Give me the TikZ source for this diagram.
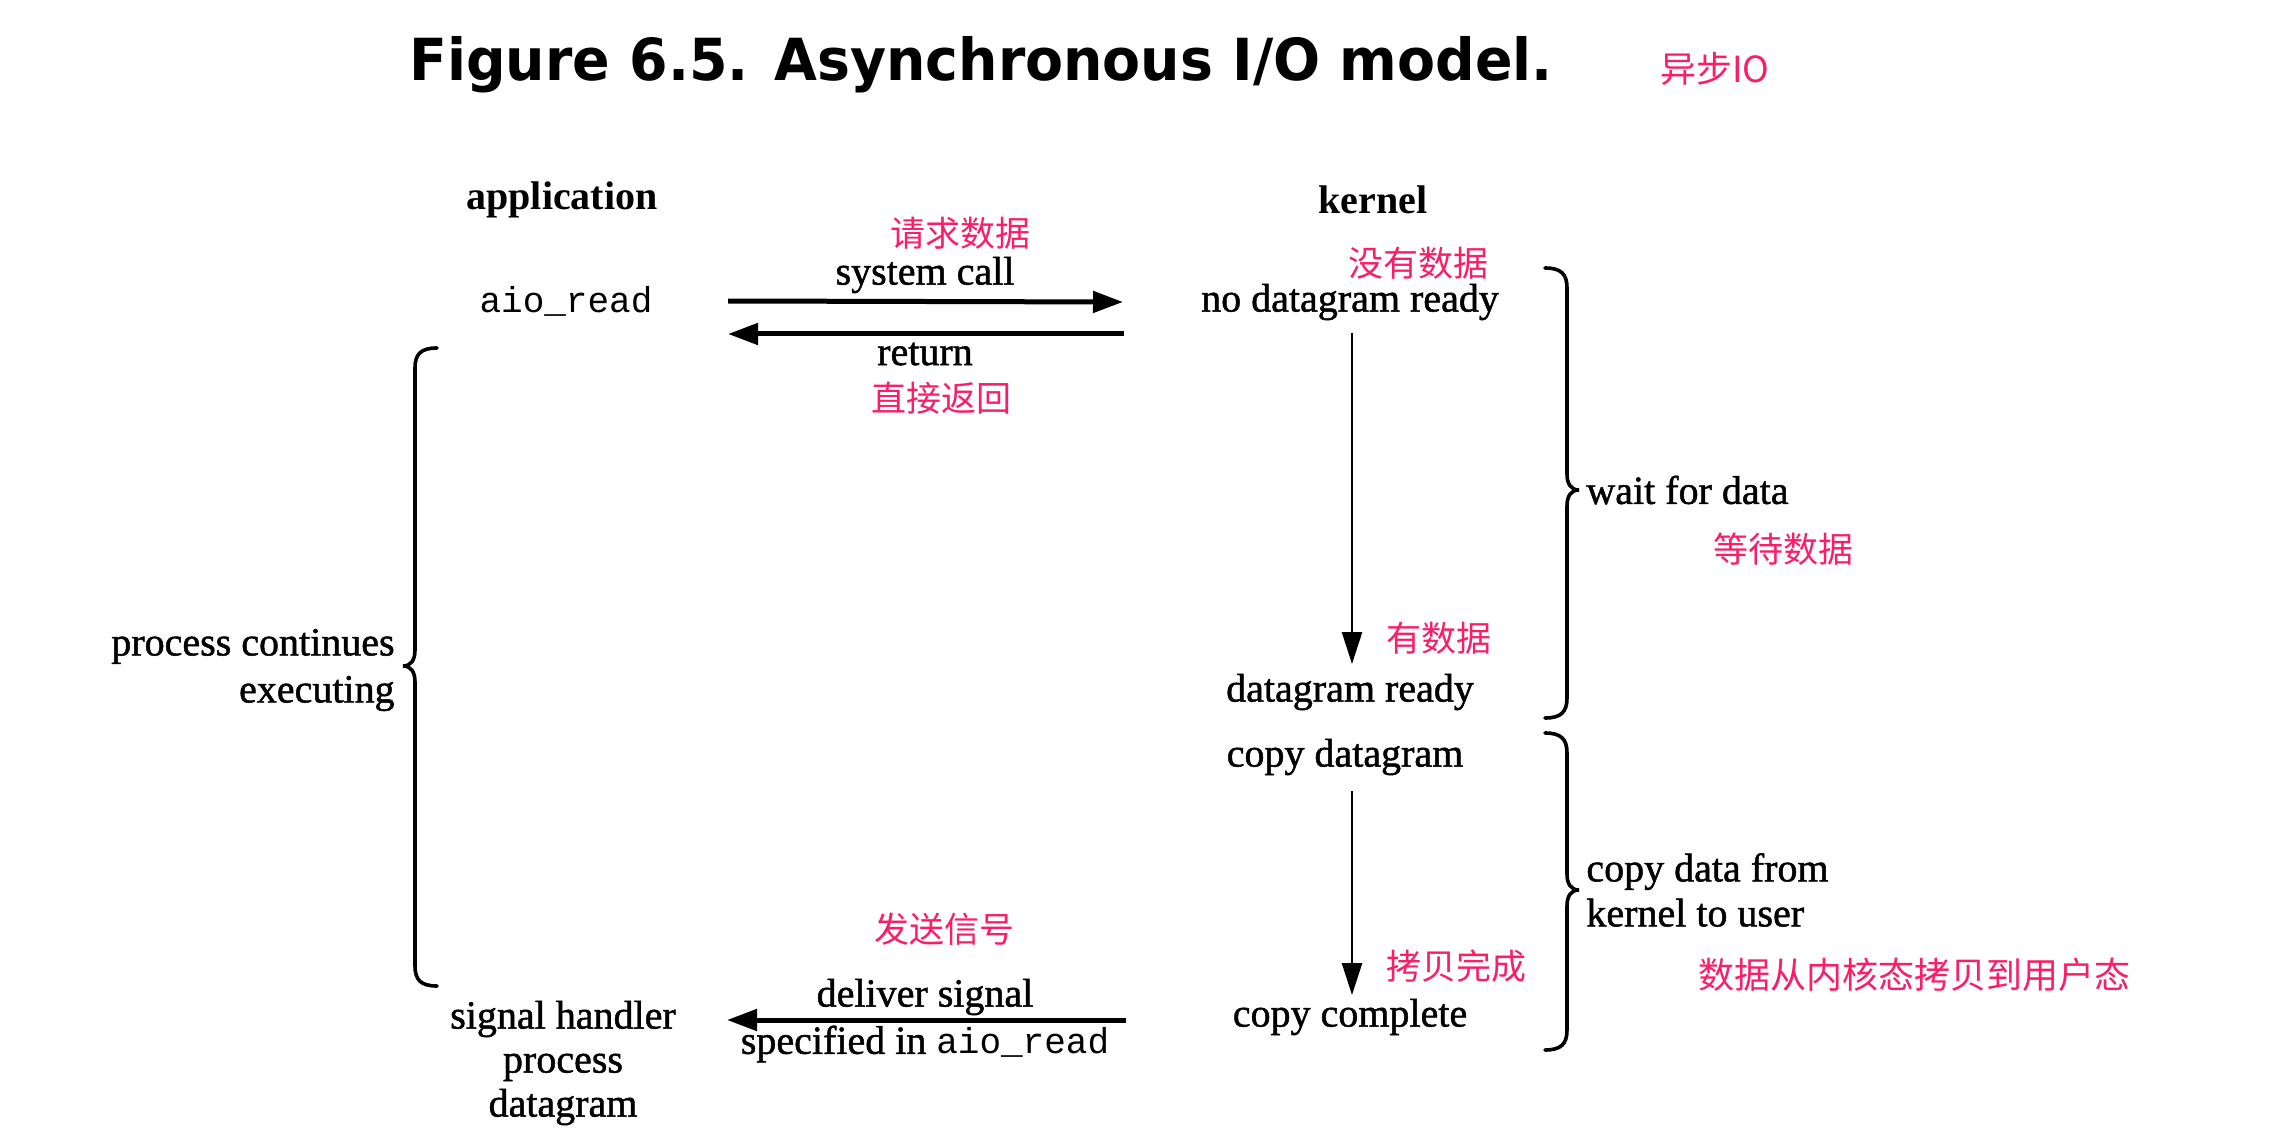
\documentclass[tikz,border=0pt]{standalone}
\usepackage{fontspec}
\setmainfont{Liberation Serif}
\setmonofont{Liberation Mono}
\newfontfamily\heavy{Liberation Serif}[FakeBold=1.2]
\newfontfamily\cjk{Noto Sans CJK SC}
\newfontfamily\titlefont{DejaVu Sans}
\usetikzlibrary{arrows.meta}
\definecolor{anno}{RGB}{250,30,105}
% right brace: x of vertical stroke, top y, bottom y, tip y
\newcommand\rbracepath[4]{({#1-22},#2) .. controls ({#1-6},#2) and (#1,{#2+6}) .. (#1,{#2+20}) -- (#1,{#4-16}) .. controls (#1,{#4-6}) and ({#1+4},#4) .. ({#1+12},#4) .. controls ({#1+4},#4) and (#1,{#4+6}) .. (#1,{#4+16}) -- (#1,{#3-20}) .. controls (#1,{#3-6}) and ({#1-6},#3) .. ({#1-22},#3)}
\newcommand\lbracepath[4]{({#1+22},#2) .. controls ({#1+6},#2) and (#1,{#2+6}) .. (#1,{#2+20}) -- (#1,{#4-16}) .. controls (#1,{#4-6}) and ({#1-4},#4) .. ({#1-12},#4) .. controls ({#1-4},#4) and (#1,{#4+6}) .. (#1,{#4+16}) -- (#1,{#3-20}) .. controls (#1,{#3-6}) and ({#1+6},#3) .. ({#1+22},#3)}
\begin{document}
\begin{tikzpicture}[x=0.5pt,y=-0.5pt,
  lbl/.style={font=\fontsize{20pt}{22.5pt}\selectfont\heavy, inner sep=0pt, align=center},
  head/.style={lbl, font=\fontsize{20pt}{22.5pt}\selectfont\bfseries},
  code/.style={font=\fontsize{18pt}{22pt}\selectfont\ttfamily, inner sep=0pt},
  note/.style={font=\fontsize{17.5pt}{21pt}\selectfont\cjk, text=anno, inner sep=0pt},
  harr/.style={line width=2.5pt, -{Triangle[length=15pt,width=10.5pt]}},
  varr/.style={line width=1.3pt, -{Triangle[length=16pt,width=10pt]}},
  brc/.style={line width=1.8pt, line cap=round}]
\useasboundingbox (0,0) rectangle (2288,1134);
\fill[white] (0,0) rectangle (2288,1134);
% title
\node[inner sep=0pt, anchor=base west] (title) at (409,81) {\scalebox{0.955}[1]{\fontsize{29pt}{34pt}\selectfont\titlefont\bfseries Figure 6.5. Asynchronous I/O model.}};
\node[note, font=\fontsize{18pt}{21pt}\selectfont\cjk] (async) at (1715,69) {异步IO};
% headers
\node[head] (app) at (562,200) {application};
\node[head] (kern) at (1373,200) {kernel};
% application side
\node[code] (aio) at (566,301) {aio\_read};
\node[lbl, font=\fontsize{20pt}{22pt}\selectfont\heavy] (sig) at (563,1063) {signal handler\\process\\datagram};
\node[lbl, align=right, anchor=east, font=\fontsize{20pt}{23.5pt}\selectfont\heavy] (proc) at (395,670) {process continues\\executing};
% kernel side
\node[lbl] (nodr) at (1350,302) {no datagram ready};
\node[lbl] (dr) at (1350,692) {datagram ready};
\node[lbl] (cpd) at (1345,757) {copy datagram};
\node[lbl] (cpc) at (1350,1017) {copy complete};
% arrow labels
\node[lbl] (syscall) at (925,275) {system call};
\node[lbl] (ret) at (925,354) {return};
\node[lbl] (deliv) at (925,997) {deliver signal};
\node[lbl] (spec) at (925,1044) {specified in {\ttfamily\fontsize{18pt}{22pt}\selectfont aio\_read}};
% brace labels
\node[lbl, anchor=west] (wait) at (1586,490) {wait for data};
\node[lbl, anchor=west, align=left] (copyk) at (1586,890) {copy data from\\kernel to user};
% annotations
\node[note] (n1) at (960,233) {请求数据};
\node[note] (n2) at (941,398) {直接返回};
\node[note] (n3) at (1418,263) {没有数据};
\node[note] (n4) at (1439,638) {有数据};
\node[note] (n5) at (1783,549) {等待数据};
\node[note] (n6) at (1456,966) {拷贝完成};
\node[note, font=\fontsize{18pt}{21pt}\selectfont\cjk] (n7) at (1914,975) {数据从内核态拷贝到用户态};
\node[note] (n8) at (944,929) {发送信号};
% arrows
\draw[harr] ([xshift=81pt]aio.center) -- ([xshift=-113.5pt]nodr.center);
\draw[harr] ([xshift=-113pt,yshift=-16pt]nodr.center) -- ([xshift=81pt,yshift=-16.5pt]aio.center);
\draw[harr] ([xshift=-112pt,yshift=-1.5pt]cpc.center) -- ([xshift=82pt,yshift=21.5pt]sig.center);
\draw[varr] ([xshift=1pt,yshift=-15.5pt]nodr.center) -- ([xshift=1pt,yshift=14pt]dr.center);
\draw[varr] ([xshift=3.5pt,yshift=-17pt]cpd.center) -- ([xshift=1pt,yshift=11pt]cpc.center);
% braces
\draw[brc] \rbracepath{1567}{268}{718}{490};
\draw[brc] \rbracepath{1567}{733}{1050}{890};
\draw[brc] \lbracepath{415}{348}{986}{666};
\end{tikzpicture}
\end{document}
